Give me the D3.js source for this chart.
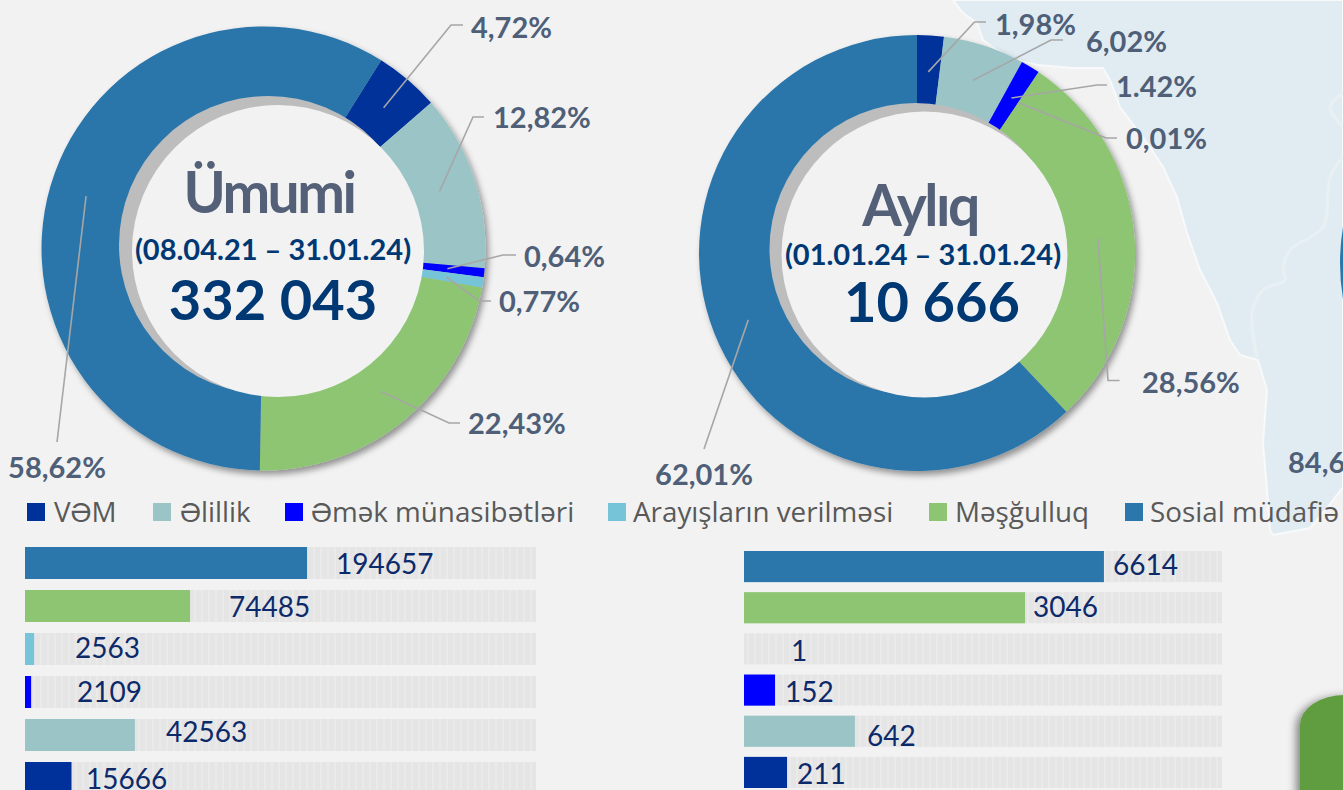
<!DOCTYPE html>
<html>
<head>
<meta charset="utf-8">
<script src="https://cdn.jsdelivr.net/npm/d3@7"></script>
<style>
    html, body { margin: 0; padding: 0; background: #f2f2f2; overflow: hidden; }
    svg { display: block; }
    text { font-family: Lato, "Open Sans", sans-serif; }
</style>
</head>
<body>
<div id="chart"></div>
<script>
// categories, same order in both donuts
const categories = ["VƏM", "Əlillik", "Əmək münasibətləri", "Arayışların verilməsi", "Məşğulluq", "Sosial müdafiə"];
const colors = ["#00309a", "#9ac4c6", "#0000ff", "#76c4d8", "#8dc572", "#2b76ab"];

// counts
const totalValues = [15666, 42563, 2109, 2563, 74485, 194657];
const monthlyValues = [211, 642, 152, 1, 3046, 6614];

// percent labels as printed
const totalPercents = ["4,72%", "12,82%", "0,64%", "0,77%", "22,43%", "58,62%"];
const monthlyPercents = ["1,98%", "6,02%", "1.42%", "0,01%", "28,56%", "62,01%"];

// how far each bar is filled, in % of its track (the bars are not proportional to the counts)
const totalFill = [9.1, 21.5, 1.2, 1.8, 32.3, 55.2];
const monthlyFill = [9, 23.2, 6.5, 0, 58.8, 75.3];

// layout of the two panels
const totalLayout = {
    cx: 263.5, cy: 248.5, outer: 222, mid: 185, start: 32,
    gray: {x: 268, y: 245, r: 149}, hole: {x: 278, y: 251, r: 146},
    title: "Ümumi", titleX: 269, titleY: 213,
    dates: "(08.04.21 – 31.01.24)", datesX: 273, datesY: 260,
    number: "332 043", numberX: 273, numberY: 320,
    // elbow, end of line, label x, label y, anchor
    leaders: [
        [[451, 25], [463, 25], 471, 26, "start"],
        [[473, 117], [484, 117], 493, 116.5, "start"],
        [[503, 255], [516, 255], 524, 255.5, "start"],
        [[479, 301], [491, 301], 499, 300.5, "start"],
        [[449, 423], [460, 423], 468, 422.5, "start"],
        [[57, 442], [57, 442], 57, 466, "middle"]
    ],
    track: [25, 536], bands: [547, 794], padding: 0.256,
    labelX: [336, 229, 75, 77, 166, 86], labelY: [563, 606, 647, 691, 731, 778]
};
const monthlyLayout = {
    cx: 917, cy: 253, outer: 218, mid: 181.5, start: 0,
    gray: {x: 915.5, y: 249, r: 146}, hole: {x: 924.5, y: 254.5, r: 143},
    title: "Aylıq", titleX: 920, titleY: 226,
    dates: "(01.01.24 – 31.01.24)", datesX: 923, datesY: 265,
    number: "10 666", numberX: 932, numberY: 322,
    leaders: [
        [[974.5, 22], [986, 22], 995, 23, "start"],
        [[1051, 40], [1063, 40], 1086, 40.5, "start"],
        [[1097, 85], [1107, 85], 1116, 85.5, "start"],
        [[1106, 138], [1117, 138], 1126, 137, "start"],
        [[1108, 380.5], [1119.5, 380.5], 1142, 381, "start"],
        [[704, 449], [704, 449], 704, 473, "middle"]
    ],
    track: [744, 1222], bands: [551, 788], padding: 0.244,
    labelX: [1113, 1033, 791, 785, 867, 797], labelY: [564, 606, 650, 691, 735, 773]
};

const legendSwatchX = [27, 153, 285, 608, 929, 1125];
const legendTextX = [54, 180, 311, 633, 955, 1150];

const width = 1343, height = 790;

const svg = d3.select("#chart").append("svg")
    .attr("width", width)
    .attr("height", height);

const defs = svg.append("defs");

defs.append("filter").attr("id", "ringShadow")
    .attr("x", "-10%").attr("y", "-10%").attr("width", "120%").attr("height", "120%")
    .append("feDropShadow")
    .attr("dx", 3).attr("dy", 4).attr("stdDeviation", 3)
    .attr("flood-color", "#000").attr("flood-opacity", 0.4);

defs.append("filter").attr("id", "boxShadow")
    .attr("x", "-30%").attr("y", "-10%").attr("width", "150%").attr("height", "120%")
    .append("feDropShadow")
    .attr("dx", -4).attr("dy", 2).attr("stdDeviation", 4)
    .attr("flood-color", "#000").attr("flood-opacity", 0.45);

// striped track background
const stripes = defs.append("pattern").attr("id", "stripes")
    .attr("patternUnits", "userSpaceOnUse")
    .attr("width", 7).attr("height", 10);
stripes.append("rect").attr("width", 7).attr("height", 10).attr("fill", "#e5e5e5");
stripes.append("rect").attr("x", 5).attr("width", 2).attr("height", 10).attr("fill", "#eaeaea");

// map in the background
const mapOutline = [[953, 0], [963, 13], [977, 23], [983, 40], [1007, 57], [1037, 65], [1073, 68], [1103, 68], [1110, 80],
    [1120, 107], [1150, 147], [1163, 167], [1177, 197], [1187, 233], [1200, 270], [1217, 303], [1230, 340], [1240, 355],
    [1258, 360], [1267, 390], [1263, 443], [1267, 490], [1270, 530], [1273, 535], [1310, 528], [1327, 508], [1343, 487],
    [1343, 0]];
const mapRoads = [
    [[1343, 93], [1330, 107], [1343, 127]],
    [[1343, 157], [1330, 177], [1323, 227], [1290, 250], [1283, 270], [1285, 280], [1263, 290], [1252, 313], [1257, 357]]
];

svg.append("path")
    .attr("d", d3.line().curve(d3.curveLinear)(mapOutline) + "Z")
    .attr("fill", "#e1ecf2")
    .attr("stroke", "#f7f9fa")
    .attr("stroke-width", 2);

svg.selectAll(".road")
    .data(mapRoads)
    .enter().append("path")
    .attr("class", "road")
    .attr("d", d3.line().curve(d3.curveCatmullRom))
    .attr("fill", "none")
    .attr("stroke", "#e9f0f4")
    .attr("stroke-width", 3);

// edge of the third donut and the green box, both cut off by the page
svg.append("circle")
    .attr("cx", 1560).attr("cy", 263).attr("r", 220)
    .attr("fill", colors[5]);

svg.append("rect")
    .attr("x", 1300).attr("y", 695)
    .attr("width", 120).attr("height", 200)
    .attr("rx", 45).attr("ry", 30)
    .attr("fill", "#609c40")
    .attr("filter", "url(#boxShadow)");

svg.append("text")
    .attr("x", 1288).attr("y", 461)
    .attr("dominant-baseline", "central")
    .attr("font-size", 29).attr("font-weight", 700)
    .attr("fill", "#4f5f78")
    .text("84,6");

function drawDonut(values, percents, layout) {
    let pie = d3.pie()
        .value(d => d)
        .sort(null)
        .startAngle(layout.start * Math.PI / 180)
        .endAngle((layout.start + 360) * Math.PI / 180);

    let arc = d3.arc().innerRadius(0).outerRadius(layout.outer);
    let midArc = d3.arc().innerRadius(layout.mid).outerRadius(layout.mid);

    let slices = pie(values);

    let ring = svg.append("g")
        .attr("transform", `translate(${layout.cx},${layout.cy})`)
        .attr("filter", "url(#ringShadow)");

    ring.selectAll(".slice")
        .data(slices)
        .enter().append("path")
        .attr("class", "slice")
        .attr("d", arc)
        .attr("fill", (d, i) => colors[i]);

    // gray crescent, then the hole on top
    svg.append("circle")
        .attr("cx", layout.gray.x).attr("cy", layout.gray.y).attr("r", layout.gray.r)
        .attr("fill", "#bdbdbd");
    svg.append("circle")
        .attr("cx", layout.hole.x).attr("cy", layout.hole.y).attr("r", layout.hole.r)
        .attr("fill", "#f2f2f2");

    // leader lines start in the middle of each slice
    let line = d3.line();
    svg.append("g").selectAll("path")
        .data(slices)
        .enter().append("path")
        .attr("d", (d, i) => {
            let c = midArc.centroid(d);
            let l = layout.leaders[i];
            return line([[layout.cx + c[0], layout.cy + c[1]], l[0], l[1]]);
        })
        .attr("fill", "none")
        .attr("stroke", "#a6a6a6")
        .attr("stroke-width", 1.6);

    svg.append("g").selectAll("text")
        .data(percents)
        .enter().append("text")
        .attr("x", (d, i) => layout.leaders[i][2])
        .attr("y", (d, i) => layout.leaders[i][3])
        .attr("text-anchor", (d, i) => layout.leaders[i][4])
        .attr("dominant-baseline", "central")
        .attr("font-size", 29)
        .attr("font-weight", 700)
        .attr("fill", "#4f5f78")
        .text(d => d);

    svg.append("text")
        .attr("x", layout.titleX).attr("y", layout.titleY)
        .attr("text-anchor", "middle")
        .attr("font-size", 57).attr("font-weight", 700)
        .attr("letter-spacing", -2.5)
        .attr("fill", "#536078")
        .text(layout.title);

    svg.append("text")
        .attr("x", layout.datesX).attr("y", layout.datesY)
        .attr("text-anchor", "middle")
        .attr("font-size", 29).attr("font-weight", 700)
        .attr("fill", "#003874")
        .text(layout.dates);

    svg.append("text")
        .attr("x", layout.numberX).attr("y", layout.numberY)
        .attr("text-anchor", "middle")
        .attr("font-size", 56).attr("font-weight", 700)
        .attr("fill", "#003874")
        .text(layout.number);
}

function drawBars(values, fill, layout) {
    // top row is the last category
    let order = d3.range(values.length).reverse();

    let x = d3.scaleLinear().domain([0, 100]).range(layout.track);
    let y = d3.scaleBand().domain(order).range(layout.bands).paddingInner(layout.padding);

    svg.append("g").selectAll("rect")
        .data(order)
        .enter().append("rect")
        .attr("x", x(0))
        .attr("y", d => y(d))
        .attr("width", x(100) - x(0))
        .attr("height", y.bandwidth())
        .attr("fill", "url(#stripes)");

    svg.append("g").selectAll("rect")
        .data(order)
        .enter().append("rect")
        .attr("x", x(0))
        .attr("y", d => y(d))
        .attr("width", d => x(fill[d]) - x(0))
        .attr("height", y.bandwidth())
        .attr("fill", d => colors[d]);

    svg.append("g").selectAll("text")
        .data(order)
        .enter().append("text")
        .attr("x", (d, i) => layout.labelX[i])
        .attr("y", (d, i) => layout.labelY[i])
        .attr("dominant-baseline", "central")
        .attr("font-size", 28)
        .attr("fill", "#0c2a6a")
        .text(d => values[d]);
}

drawDonut(totalValues, totalPercents, totalLayout);
drawDonut(monthlyValues, monthlyPercents, monthlyLayout);
drawBars(totalValues, totalFill, totalLayout);
drawBars(monthlyValues, monthlyFill, monthlyLayout);

// legend
const legend = svg.selectAll(".legend")
    .data(categories)
    .enter().append("g")
    .attr("class", "legend");

legend.append("rect")
    .attr("x", (d, i) => legendSwatchX[i])
    .attr("y", 503)
    .attr("width", 18)
    .attr("height", 18)
    .attr("fill", (d, i) => colors[i]);

legend.append("text")
    .attr("x", (d, i) => legendTextX[i])
    .attr("y", 511)
    .attr("dominant-baseline", "central")
    .style("font-family", "'Open Sans', sans-serif")
    .attr("font-size", 27.8)
    .attr("fill", "#595959")
    .text(d => d);
</script>
</body>
</html>
